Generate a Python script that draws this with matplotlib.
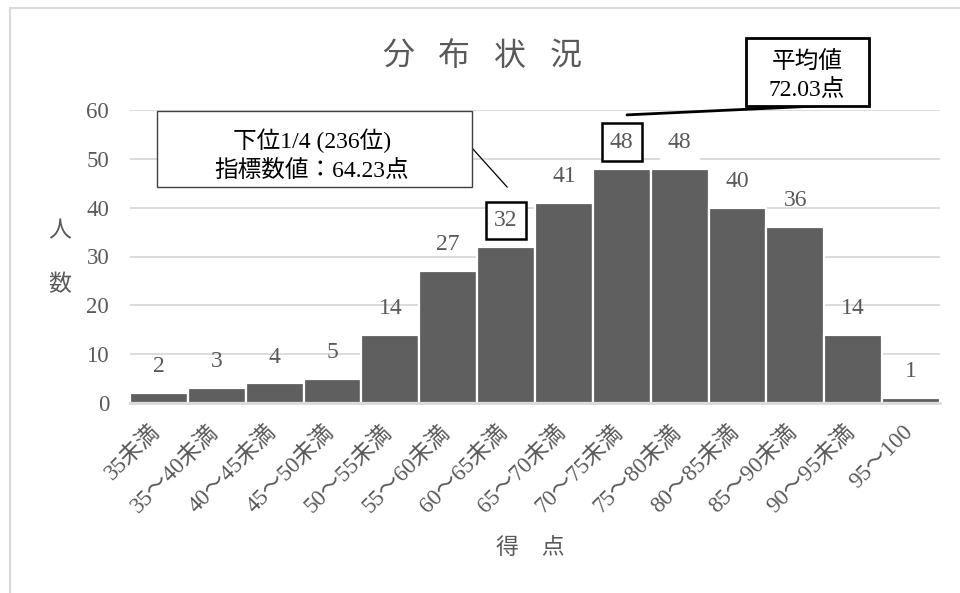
import matplotlib
matplotlib.use("Agg")
import matplotlib.pyplot as plt
import matplotlib.transforms as mtrans
from matplotlib.patches import Rectangle
import numpy as np

plt.rcParams['font.family'] = ['Liberation Serif', 'Noto Sans CJK JP', 'DejaVu Sans']

# data
categories = ["35未満", "35～40未満", "40～45未満", "45～50未満", "50～55未満",
              "55～60未満", "60～65未満", "65～70未満", "70～75未満", "75～80未満",
              "80～85未満", "85～90未満", "90～95未満", "95～100"]
counts = [2, 3, 4, 5, 14, 27, 32, 41, 48, 48, 40, 36, 14, 1]
y_ticks = [0, 10, 20, 30, 40, 50, 60]
boxed_labels = [6, 8]        # value labels with a black frame
masked_labels = [9]          # value label on white, no frame
title_chars = "分布状況"
ylabel_chars = "人数"
xlabel = "得　点"
quartile_text = "下位1/4 (236位)\n指標数値：64.23点"
mean_text = "平均値\n72.03点"

TEXT_COLOR = "#595959"
BAR_COLOR = "#5f5f5f"
GRID_COLOR = "#d9d9d9"

W, H = 960, 593
fig = plt.figure(figsize=(W / 100, H / 100), dpi=100)

def fx(px):
    return px / W

def fy(py):
    # image y (from top) -> figure fraction
    return 1 - py / H

# outer chart frame, right/bottom edges run off the picture
fig.patches.append(Rectangle((fx(10), -0.1), 1.2, fy(8) + 0.1, transform=fig.transFigure,
                             fill=False, edgecolor=GRID_COLOR, linewidth=1.5))

ax = fig.add_axes([fx(130), fy(403), fx(810), 293 / H])
x = np.arange(len(categories))
ax.bar(x, counts, width=1.0, color=BAR_COLOR, edgecolor="white", linewidth=1.6, zorder=2)

ax.set_xlim(-0.5, len(categories) - 0.5)
ax.set_ylim(0, 60)
ax.set_yticks(y_ticks)
ax.yaxis.grid(True, color=GRID_COLOR, linewidth=1.3, zorder=0)
ax.set_axisbelow(True)
for s in ["top", "right", "left"]:
    ax.spines[s].set_visible(False)
ax.spines["bottom"].set_color(GRID_COLOR)
ax.spines["bottom"].set_linewidth(2)
ax.spines["bottom"].set_zorder(3)
ax.tick_params(axis="both", length=0, colors=TEXT_COLOR)
ax.tick_params(axis="y", pad=15, labelsize=16.5)
ax.set_xticks(x)
ax.set_xticklabels(categories, rotation=45, ha="right", va="top",
                   fontsize=16.5, color=TEXT_COLOR)
ax.tick_params(axis="x", pad=13)
shift = mtrans.ScaledTranslation(6 / 100, 0, fig.dpi_scale_trans)
for lab in ax.get_xticklabels():
    lab.set_transform(lab.get_transform() + shift)

# value labels, centred about 5.4 units above each bar
for i, v in enumerate(counts):
    kw = dict(ha="center", va="center", fontsize=17, color=TEXT_COLOR, zorder=4)
    if i in boxed_labels:
        kw["bbox"] = dict(boxstyle="square,pad=0.35", facecolor="white",
                          edgecolor="black", linewidth=1.8)
    elif i in masked_labels:
        kw["bbox"] = dict(boxstyle="square,pad=0.35", facecolor="white",
                          edgecolor="none")
    ax.text(i, v + 5.4, str(v), **kw)

# title with wide letter spacing
for k, ch in enumerate(title_chars):
    fig.text(fx(482 + (k - 1.5) * 56), fy(57), ch, ha="center", va="center",
             fontsize=23, color=TEXT_COLOR)
fig.text(fx(530), fy(548), xlabel, ha="center", va="center",
         fontsize=16.5, color=TEXT_COLOR)
for k, ch in enumerate(ylabel_chars):
    fig.text(fx(60), fy(232 + 53 * k), ch, ha="center", va="center",
             fontsize=16.5, color=TEXT_COLOR)

# callout: lower quartile
fig.patches.append(Rectangle((fx(157), fy(187)), fx(315), 76 / H,
                             transform=fig.transFigure, facecolor="white",
                             edgecolor="#404040", linewidth=1.0, zorder=0))
fig.text(fx(312), fy(155), quartile_text, ha="center", va="center",
         fontsize=17, color="black", linespacing=1.4)
ax.annotate("", xy=(6.02, 44.2), xycoords="data",
            xytext=(472, H - 148), textcoords="figure pixels",
            arrowprops=dict(arrowstyle="-", color="black", linewidth=0.9,
                            shrinkA=0, shrinkB=0), annotation_clip=False)

# callout: mean
fig.patches.append(Rectangle((fx(746), fy(106)), fx(123), 68 / H,
                             transform=fig.transFigure, facecolor="white",
                             edgecolor="black", linewidth=2.0, zorder=0))
fig.text(fx(807), fy(76), mean_text, ha="center", va="center",
         fontsize=17, color="black", linespacing=1.2)
ax.annotate("", xy=(8.09, 59.0), xycoords="data",
            xytext=(817, H - 106), textcoords="figure pixels",
            arrowprops=dict(arrowstyle="-", color="black", linewidth=2.0,
                            shrinkA=0, shrinkB=0), annotation_clip=False)

fig.savefig("out.png", dpi=100)
